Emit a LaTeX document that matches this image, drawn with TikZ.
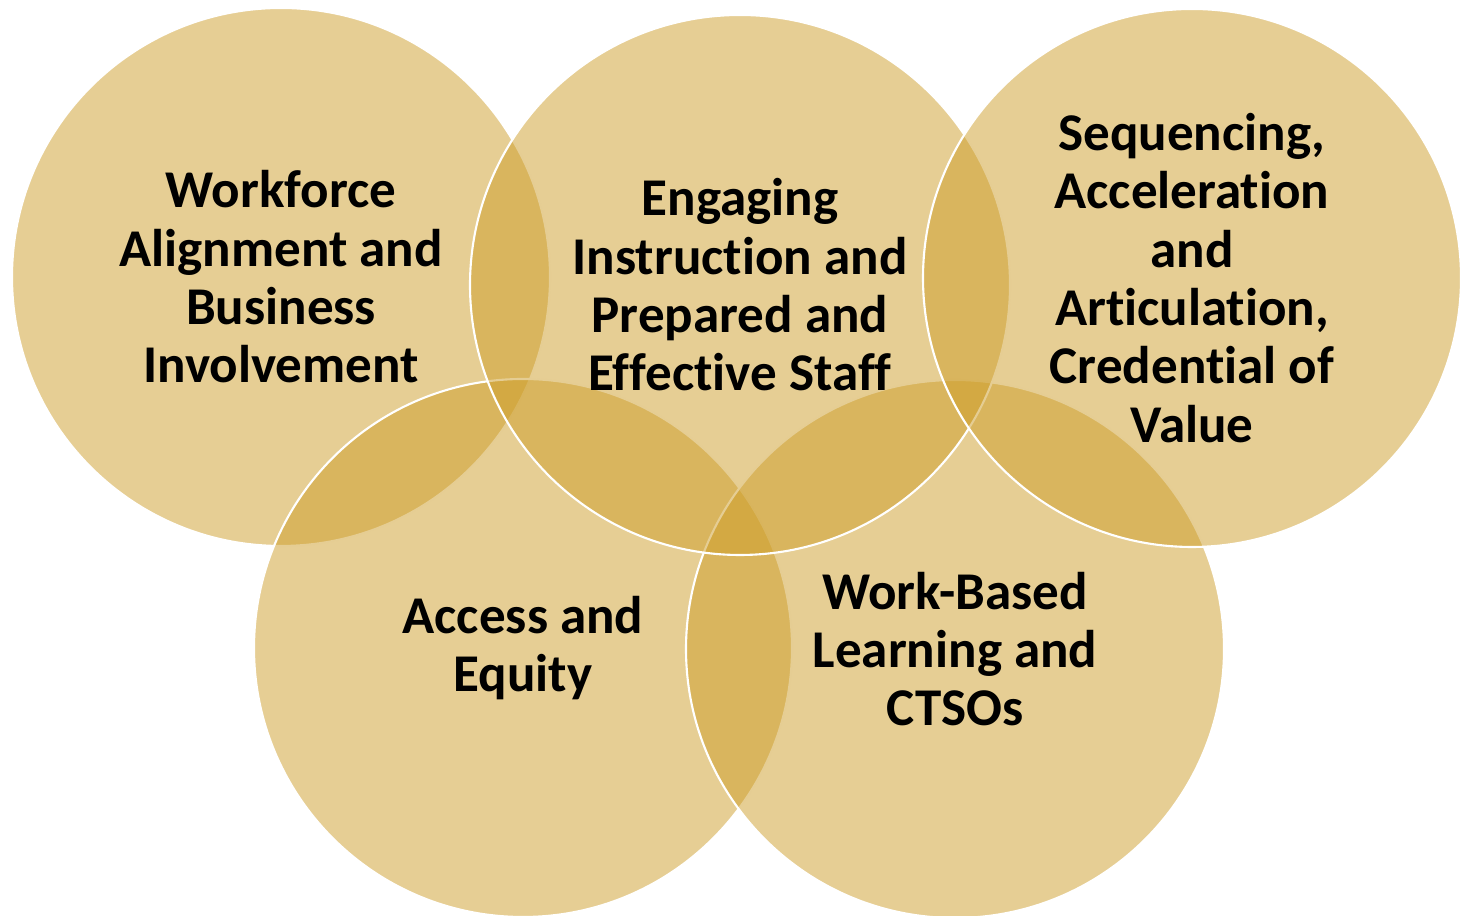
\documentclass[tikz,border=0pt]{standalone}
\usepackage{fontspec}
\setmainfont{Carlito}[Ligatures=NoCommon]
\usetikzlibrary{positioning}
\definecolor{ringGold}{RGB}{205,157,41}
\tikzset{
	goalRing/.style={circle, minimum size=5.38cm, inner sep=0pt, fill=ringGold,
		fill opacity=0.5, text opacity=1, draw=white, line width=0.6pt,
		align=center, font=\fontsize{15.1}{16.6}\selectfont\bfseries}
}

\begin{document}
\begin{tikzpicture}
	\useasboundingbox (0,0) rectangle (14.61,9.16);
	% back row first, then the lower pair, then the rest on top
	\node[goalRing] (workforce) at (2.81,6.39) {Workforce\\Alignment and\\Business\\Involvement};
	\node[goalRing] (access) at (5.23,2.68) {Access and\\Equity};
	\node[goalRing] (workbased) at (9.55,2.67) {Work-Based\\Learning and\\CTSOs};
	\node[goalRing, minimum size=5.40cm] (engaging) at (7.40,6.31) {Engaging\\Instruction and\\Prepared and\\Effective Staff};
	\node[goalRing] (sequencing) at (11.92,6.38) {Sequencing,\\Acceleration\\and\\Articulation,\\Credential of\\Value};
\end{tikzpicture}
\end{document}
